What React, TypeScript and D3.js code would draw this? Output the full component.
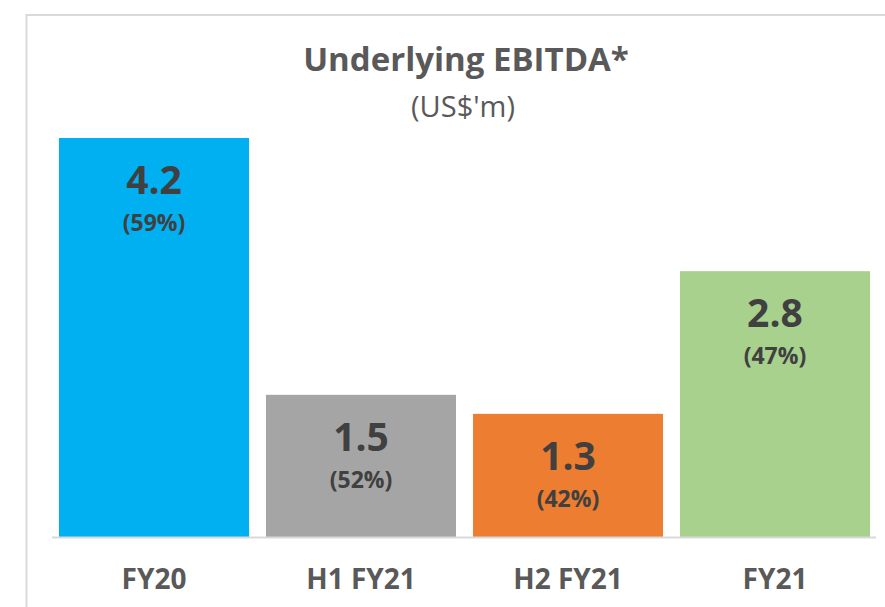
import React from "react";
import * as d3 from "d3";

const categories = ["FY20", "H1 FY21", "H2 FY21", "FY21"];
const values = [4.2, 1.5, 1.3, 2.8];
const margins = ["(59%)", "(52%)", "(42%)", "(47%)"];
const colors = ["#00B0F0", "#A5A5A5", "#ED7D31", "#A9D18E"];
const title = "Underlying EBITDA*";
const subtitle = "(US$'m)";

const W = 885;
const H = 607;
const FONT = "'Open Sans', 'Noto Sans', sans-serif";

export default function App() {
  const x = d3.scaleBand<string>().domain(categories).range([59, 870]).paddingInner(0.082).paddingOuter(0);
  const y = d3.scaleLinear().domain([0, 4.2]).range([537.5, 138]);

  return (
    <svg width={W} height={H} style={{ position: "absolute", left: 0, top: 0, background: "#fff" }}>
      <rect x={26.5} y={15} width={W} height={H} fill="none" stroke="#d9d9d9" strokeWidth={2} />
      <text x={466} y={71} textAnchor="middle" fontFamily={FONT} fontWeight={700} fontSize={33} fill="#595959">
        {title}
      </text>
      <text x={463} y={117} textAnchor="middle" fontFamily={FONT} fontWeight={400} fontSize={29} fill="#595959">
        {subtitle}
      </text>
      {categories.map((c, i) => {
        const bx = x(c)!;
        const bw = x.bandwidth();
        const top = y(values[i]);
        const cx = bx + bw / 2;
        return (
          <g key={c}>
            <rect x={bx} y={top} width={bw} height={y(0) - top} fill={colors[i]} />
            <text x={cx} y={top + 56} textAnchor="middle" fontFamily={FONT} fontWeight={700} fontSize={39} fill="#404040">
              {values[i].toFixed(1)}
            </text>
            <text x={cx} y={top + 93} textAnchor="middle" fontFamily={FONT} fontWeight={700} fontSize={23} fill="#404040">
              {margins[i]}
            </text>
            <text x={cx} y={589} textAnchor="middle" fontFamily={FONT} fontWeight={700} fontSize={28} fill="#595959">
              {c}
            </text>
          </g>
        );
      })}
      <line x1={52} x2={876} y1={537.5} y2={537.5} stroke="#d9d9d9" strokeWidth={2} />
    </svg>
  );
}
